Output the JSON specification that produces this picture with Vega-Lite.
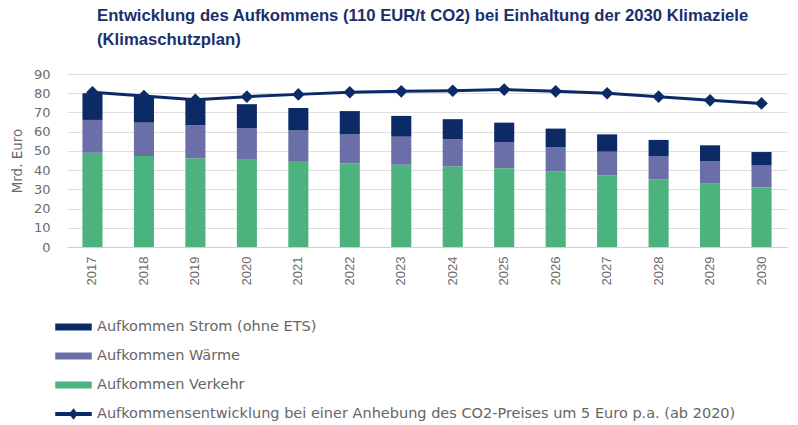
{
  "$schema": "https://vega.github.io/schema/vega-lite/v6.json",
  "width": 720,
  "height": 173,
  "padding": {"left": 10, "top": 8, "right": 9, "bottom": 0},
  "background": "white",
  "title": {
    "text": ["Entwicklung des Aufkommens (110 EUR/t CO2) bei Einhaltung der 2030 Klimaziele", "(Klimaschutzplan)"],
    "anchor": "start",
    "frame": "group",
    "dx": 30,
    "font": "Liberation Sans",
    "fontSize": 16.7,
    "fontWeight": "bold",
    "color": "#1b2f6b",
    "lineHeight": 24,
    "offset": 19
  },
  "datasets": {
    "bars": [
      {"year": "2017", "series": "Aufkommen Verkehr", "value": 49.0},
      {"year": "2017", "series": "Aufkommen Wärme", "value": 17.1},
      {"year": "2017", "series": "Aufkommen Strom (ohne ETS)", "value": 13.9},
      {"year": "2018", "series": "Aufkommen Verkehr", "value": 47.3},
      {"year": "2018", "series": "Aufkommen Wärme", "value": 17.4},
      {"year": "2018", "series": "Aufkommen Strom (ohne ETS)", "value": 13.8},
      {"year": "2019", "series": "Aufkommen Verkehr", "value": 46.2},
      {"year": "2019", "series": "Aufkommen Wärme", "value": 17.1},
      {"year": "2019", "series": "Aufkommen Strom (ohne ETS)", "value": 13.3},
      {"year": "2020", "series": "Aufkommen Verkehr", "value": 45.4},
      {"year": "2020", "series": "Aufkommen Wärme", "value": 16.5},
      {"year": "2020", "series": "Aufkommen Strom (ohne ETS)", "value": 12.4},
      {"year": "2021", "series": "Aufkommen Verkehr", "value": 44.7},
      {"year": "2021", "series": "Aufkommen Wärme", "value": 15.9},
      {"year": "2021", "series": "Aufkommen Strom (ohne ETS)", "value": 11.7},
      {"year": "2022", "series": "Aufkommen Verkehr", "value": 43.6},
      {"year": "2022", "series": "Aufkommen Wärme", "value": 15.2},
      {"year": "2022", "series": "Aufkommen Strom (ohne ETS)", "value": 11.9},
      {"year": "2023", "series": "Aufkommen Verkehr", "value": 42.8},
      {"year": "2023", "series": "Aufkommen Wärme", "value": 14.6},
      {"year": "2023", "series": "Aufkommen Strom (ohne ETS)", "value": 10.8},
      {"year": "2024", "series": "Aufkommen Verkehr", "value": 42.0},
      {"year": "2024", "series": "Aufkommen Wärme", "value": 14.0},
      {"year": "2024", "series": "Aufkommen Strom (ohne ETS)", "value": 10.5},
      {"year": "2025", "series": "Aufkommen Verkehr", "value": 41.0},
      {"year": "2025", "series": "Aufkommen Wärme", "value": 13.6},
      {"year": "2025", "series": "Aufkommen Strom (ohne ETS)", "value": 10.1},
      {"year": "2026", "series": "Aufkommen Verkehr", "value": 39.4},
      {"year": "2026", "series": "Aufkommen Wärme", "value": 12.6},
      {"year": "2026", "series": "Aufkommen Strom (ohne ETS)", "value": 9.6},
      {"year": "2027", "series": "Aufkommen Verkehr", "value": 37.2},
      {"year": "2027", "series": "Aufkommen Wärme", "value": 12.4},
      {"year": "2027", "series": "Aufkommen Strom (ohne ETS)", "value": 9.0},
      {"year": "2028", "series": "Aufkommen Verkehr", "value": 35.1},
      {"year": "2028", "series": "Aufkommen Wärme", "value": 12.2},
      {"year": "2028", "series": "Aufkommen Strom (ohne ETS)", "value": 8.4},
      {"year": "2029", "series": "Aufkommen Verkehr", "value": 33.0},
      {"year": "2029", "series": "Aufkommen Wärme", "value": 11.7},
      {"year": "2029", "series": "Aufkommen Strom (ohne ETS)", "value": 8.2},
      {"year": "2030", "series": "Aufkommen Verkehr", "value": 31.0},
      {"year": "2030", "series": "Aufkommen Wärme", "value": 11.4},
      {"year": "2030", "series": "Aufkommen Strom (ohne ETS)", "value": 7.0}
    ],
    "line": [
      {"year": "2017", "series": "Aufkommensentwicklung bei einer Anhebung des CO2-Preises um 5 Euro p.a. (ab 2020)", "value": 80.5},
      {"year": "2018", "series": "Aufkommensentwicklung bei einer Anhebung des CO2-Preises um 5 Euro p.a. (ab 2020)", "value": 78.5},
      {"year": "2019", "series": "Aufkommensentwicklung bei einer Anhebung des CO2-Preises um 5 Euro p.a. (ab 2020)", "value": 76.6},
      {"year": "2020", "series": "Aufkommensentwicklung bei einer Anhebung des CO2-Preises um 5 Euro p.a. (ab 2020)", "value": 78.2},
      {"year": "2021", "series": "Aufkommensentwicklung bei einer Anhebung des CO2-Preises um 5 Euro p.a. (ab 2020)", "value": 79.4},
      {"year": "2022", "series": "Aufkommensentwicklung bei einer Anhebung des CO2-Preises um 5 Euro p.a. (ab 2020)", "value": 80.5},
      {"year": "2023", "series": "Aufkommensentwicklung bei einer Anhebung des CO2-Preises um 5 Euro p.a. (ab 2020)", "value": 81.0},
      {"year": "2024", "series": "Aufkommensentwicklung bei einer Anhebung des CO2-Preises um 5 Euro p.a. (ab 2020)", "value": 81.3},
      {"year": "2025", "series": "Aufkommensentwicklung bei einer Anhebung des CO2-Preises um 5 Euro p.a. (ab 2020)", "value": 81.9},
      {"year": "2026", "series": "Aufkommensentwicklung bei einer Anhebung des CO2-Preises um 5 Euro p.a. (ab 2020)", "value": 81.0},
      {"year": "2027", "series": "Aufkommensentwicklung bei einer Anhebung des CO2-Preises um 5 Euro p.a. (ab 2020)", "value": 80.0},
      {"year": "2028", "series": "Aufkommensentwicklung bei einer Anhebung des CO2-Preises um 5 Euro p.a. (ab 2020)", "value": 78.2},
      {"year": "2029", "series": "Aufkommensentwicklung bei einer Anhebung des CO2-Preises um 5 Euro p.a. (ab 2020)", "value": 76.3},
      {"year": "2030", "series": "Aufkommensentwicklung bei einer Anhebung des CO2-Preises um 5 Euro p.a. (ab 2020)", "value": 74.7}
    ]
  },
  "config": {
    "view": {"stroke": null},
    "font": "DejaVu Sans",
    "axis": {"labelColor": "#6b6b6b", "titleColor": "#6b6b6b", "titleFontWeight": "normal"},
    "axisY": {"values": [0,10,20,30,40,50,60,70,80,90], "labelOverlap": false, "labelFont": "DejaVu Sans", "labelFontSize": 13, "titleFont": "DejaVu Sans", "titleFontSize": 13.5, "domain": false, "ticks": false, "gridColor": "#dedede", "labelPadding": 17, "titlePadding": 9}
  },
  "encoding": {
    "x": {
      "field": "year", "type": "nominal", "title": null,
      "scale": {"paddingInner": 0.61, "paddingOuter": 0.3},
      "axis": {"labelAngle": -90, "labelFont": "Liberation Sans", "labelFontSize": 13, "labelPadding": 9, "ticks": false, "domainColor": "#d0d0d0", "labelBaseline": "middle", "labelAlign": "right"}
    },
    "y": {
      "field": "value", "type": "quantitative",
      "title": "Mrd. Euro",
      "scale": {"domain": [0, 90], "nice": false},
      "axis": {"values": [0,10,20,30,40,50,60,70,80,90], "labelOverlap": false, "tickCount": 10}
    }
  },
  "layer": [
    {
      "data": {"name": "bars"},
      "transform": [
        {"calculate": "indexof(['Aufkommen Verkehr','Aufkommen Wärme','Aufkommen Strom (ohne ETS)'], datum.series)", "as": "stackOrder"}
      ],
      "mark": {"type": "bar"},
      "encoding": {
        "y": {
          "field": "value", "type": "quantitative", "stack": "zero",
          "title": "Mrd. Euro",
          "scale": {"domain": [0, 90], "nice": false},
          "axis": {"values": [0,10,20,30,40,50,60,70,80,90], "labelOverlap": false, "tickCount": 10}
        },
        "order": {"field": "stackOrder", "type": "quantitative"},
        "color": {
          "field": "series", "type": "nominal",
          "scale": {
            "domain": ["Aufkommen Strom (ohne ETS)", "Aufkommen Wärme", "Aufkommen Verkehr", "Aufkommensentwicklung bei einer Anhebung des CO2-Preises um 5 Euro p.a. (ab 2020)"],
            "range": ["#0c2a66", "#6a6fa8", "#4cb27e", "#0c2a66"]
          },
          "legend": {
            "title": null,
            "orient": "none",
            "legendX": -4.5,
            "legendY": 242,
            "padding": 0,
            "direction": "vertical",
            "symbolSize": 400,
            "rowPadding": 11,
            "labelFontSize": 14.5,
            "labelColor": "#666666",
            "labelFont": "DejaVu Sans",
            "labelOffset": 12.5,
            "labelLimit": 800,
            "encode": {
              "symbols": {
                "update": {
                  "shape": {"signal": "datum.label === 'Aufkommensentwicklung bei einer Anhebung des CO2-Preises um 5 Euro p.a. (ab 2020)' ? 'M-1.75,-0.13H1.75V0.13H-1.75Z M-0.35,0L0,-0.45L0.35,0L0,0.45Z' : 'M-1.75,-0.28H1.75V0.28H-1.75Z'"},
                  "fill": {"scale": "color", "field": "value"},
                  "stroke": {"value": "transparent"},
                  "opacity": {"value": 1},
                  "fillOpacity": {"value": 1}
                }
              }
            }
          }
        }
      }
    },
    {
      "data": {"name": "line"},
      "mark": {"type": "line", "strokeWidth": 3, "point": {"shape": "diamond", "size": 160, "filled": true, "color": "#0c2a66", "opacity": 1}},
      "encoding": {
        "color": {"field": "series", "type": "nominal"}
      }
    }
  ]
}
